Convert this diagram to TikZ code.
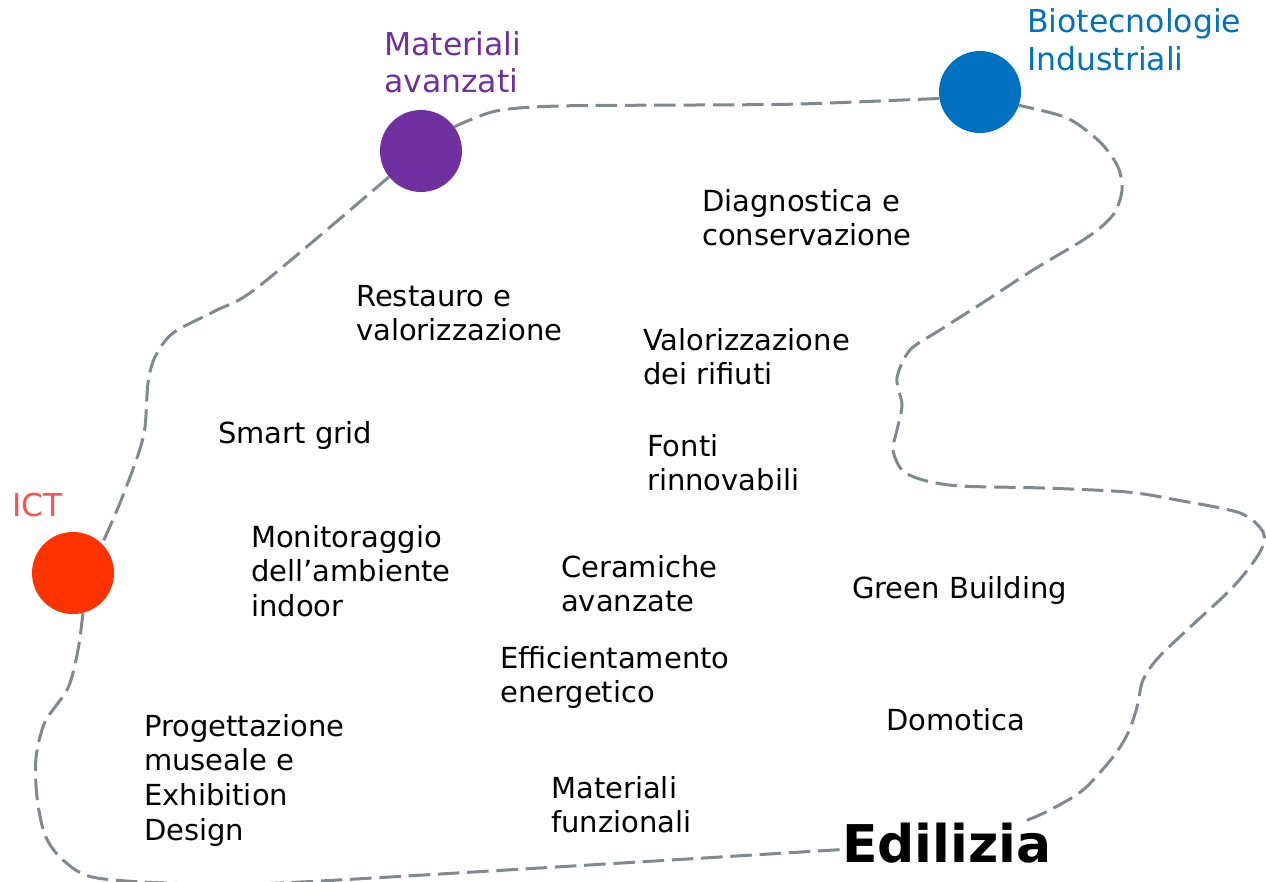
\documentclass[tikz,border=0pt]{standalone}
\usepackage{fontspec}
\setmainfont{DejaVu Sans}
\usetikzlibrary{positioning}

\definecolor{matpurple}{HTML}{7030A0}
\definecolor{biotblue}{HTML}{0070C0}
\definecolor{ictred}{HTML}{FF3300}
\definecolor{ictlabel}{HTML}{FF5050}
\definecolor{loopgray}{RGB}{127,138,143}

\begin{document}
\begin{tikzpicture}[
  x=1pt, y=-1pt,
  hub/.style={circle, minimum size=82pt, inner sep=0pt, draw=none},
  area/.style={align=left, anchor=base west, inner sep=0pt,
    font=\fontsize{31.5}{37.5}\selectfont},
  topic/.style={align=left, anchor=base west, inner sep=0pt,
    font=\fontsize{29}{34.7}\selectfont},
  border/.style={loopgray, line width=3pt, dash pattern=on 21.5pt off 7.8pt}
]
\useasboundingbox (0,0) rectangle (1266,881);

% the three areas (labels sit on the baseline of their last line)
\node[hub, fill=matpurple] (mat) at (421,151) {};
\node[hub, fill=biotblue] (bio) at (980,92) {};
\node[hub, fill=ictred] (ict) at (73,573) {};
\node[area, text=matpurple] (matlabel) at (384,92.5) {Materiali\\avanzati};
\node[area, text=biotblue] (biolabel) at (1027,70) {Biotecnologie\\Industriali};
\node[area, text=ictlabel] (ictlabel) at (12,516) {ICT};
\node[anchor=base west, inner sep=2pt, font=\fontsize{52}{60}\selectfont\bfseries]
  (edil) at (840,862) {Edilizia};

% topics
\node[topic] (diagn) at (702,245.7) {Diagnostica e\\conservazione};
\node[topic] (restauro) at (356,340.7) {Restauro e\\valorizzazione};
\node[topic] (rifiuti) at (643,384.7) {Valorizzazione\\dei rifiuti};
\node[topic] (grid) at (218,443) {Smart grid};
\node[topic] (fonti) at (647,490.7) {Fonti\\rinnovabili};
\node[topic] (indoor) at (251,616.4) {Monitoraggio\\dell’ambiente\\indoor};
\node[topic] (ceram) at (561,611.7) {Ceramiche\\avanzate};
\node[topic] (green) at (852,598) {Green Building};
\node[topic] (effic) at (500,702.7) {Efficientamento\\energetico};
\node[topic] (domot) at (886,730) {Domotica};
\node[topic] (museo) at (144,840.1) {Progettazione\\museale e\\Exhibition\\Design};
\node[topic] (funz) at (551,832.7) {Materiali\\funzionali};

% dashed boundary
\draw[border] plot[smooth, tension=0.5] coordinates {(mat.219) (258,287) (215,311)
  (173,333) (155,357) (148,383) (145,427) (138,455) (120,503) (ict.45)};
\draw[border] plot[smooth, tension=0.5] coordinates {(ict.284) (78,650) (68,688)
  (45,722) (36,758) (37,797) (45,835) (63,860) (97,878) (200,884) (320,881)
  ([yshift=-7pt]edil.west)};
\draw[border] plot[smooth, tension=0.5] coordinates {([xshift=-27pt]edil.north east)
  (1050,810) (1083,790) (1113,757) (1128,733) (1137,707) (1143,680) (1158,658)
  (1187,630) (1233,587) (1260,552) (1263,532) (1240,513) (1177,500) (1127,492)
  (1043,488) (960,486) (923,480) (902,470) (893,450) (897,430) (902,405) (897,378)
  (910,350) (940,330) (987,300) (1033,270) (1080,242) (1100,228) (1115,212)
  (1122,190) (1118,167) (1100,142) (1067,118) (bio.-19)};
\draw[border] plot[smooth, tension=0.5] coordinates {(bio.189) (800,104) (696,105)
  (558,106) (496,111) (mat.36)};
\end{tikzpicture}
\end{document}
